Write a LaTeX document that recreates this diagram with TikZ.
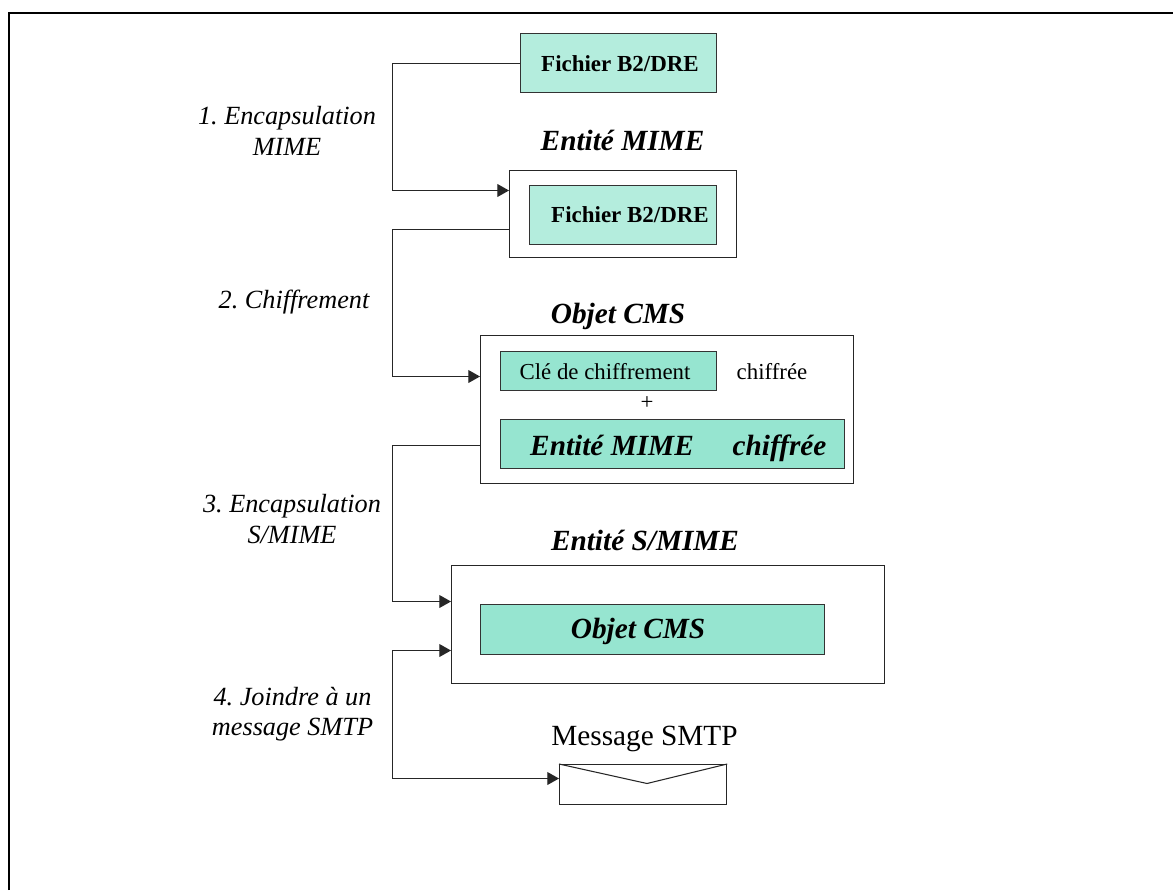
\documentclass[tikz,border=0pt]{standalone}
\usepackage{fontspec}
\setmainfont{Liberation Serif}
\usetikzlibrary{arrows.meta}
\definecolor{lighttile}{HTML}{B4EDDD}
\definecolor{darktile}{HTML}{96E5D0}
\tikzset{
    tilebox/.style={draw=black!80, line width=1pt, fill=lighttile, inner sep=0pt, anchor=north west},
    darkbox/.style={tilebox, fill=darktile},
    wrapbox/.style={draw=black!85, line width=1pt, fill=white, inner sep=0pt, anchor=north west},
    stepline/.style={draw=black!85, line width=0.9pt},
    arrowline/.style={stepline, -{Triangle[length=10pt,width=11pt]}},
    bothline/.style={stepline, {Triangle[length=10pt,width=11pt]}-{Triangle[length=10pt,width=11pt]}},
    steplabel/.style={font=\fontsize{22.4}{25.8}\selectfont\itshape\frenchspacing, align=center},
    boldlabel/.style={font=\fontsize{19.6}{23}\selectfont\bfseries, anchor=base},
    titlelabel/.style={font=\fontsize{25}{29}\selectfont\bfseries\itshape, anchor=base},
    plainlabel/.style={font=\fontsize{19.5}{23}\selectfont, anchor=base},
}
\begin{document}
\begin{tikzpicture}[x=0.03cm,y=-0.03cm]
    \useasboundingbox (0,0) rectangle (1173,890);
    % frame, open on the right and at the bottom
    \draw[black, line width=1.7pt] (9,890) -- (9,13) -- (1173,13);

    \node[tilebox, minimum width=196*0.03cm, minimum height=59*0.03cm] (filea) at (520,33) {};
    \node[boldlabel] (fileatext) at (620,71) {Fichier B2/DRE};

    \node[titlelabel] (mimetitle) at (622.5,150.5) {Entité MIME};
    \node[wrapbox, minimum width=227*0.03cm, minimum height=87*0.03cm] (mime) at (509,170) {};
    \node[tilebox, minimum width=187*0.03cm, minimum height=59*0.03cm] (fileb) at (529,185) {};
    \node[boldlabel] (filebtext) at (630,222) {Fichier B2/DRE};

    \node[titlelabel] (cmstitle) at (618,323) {Objet CMS};
    \node[wrapbox, minimum width=373*0.03cm, minimum height=148*0.03cm] (cms) at (480,335) {};
    \node[darkbox, minimum width=216*0.03cm, minimum height=39*0.03cm] (key) at (500,351) {};
    \node[plainlabel] (keytext) at (605,379) {Clé de chiffrement};
    \node[plainlabel] (keyword) at (772,379) {chiffrée};
    \node[plainlabel] (plus) at (647,409) {+};
    \node[darkbox, minimum width=344*0.03cm, minimum height=49*0.03cm] (mimeenc) at (500,419) {};
    \node[titlelabel] (mimeenctext) at (612,455.5) {Entité MIME};
    \node[titlelabel] (mimeencword) at (779.5,455.5) {chiffrée};

    \node[titlelabel] (smimetitle) at (645,550) {Entité S/MIME};
    \node[wrapbox, minimum width=433*0.03cm, minimum height=118*0.03cm] (smime) at (451,565) {};
    \node[darkbox, minimum width=344*0.03cm, minimum height=50*0.03cm] (inner) at (480,604) {};
    \node[titlelabel] (innertext) at (638,638) {Objet CMS};

    \node[plainlabel, font=\fontsize{25}{29}\selectfont] (smtptitle) at (644.5,745) {Message SMTP};
    \node[wrapbox, minimum width=167*0.03cm, minimum height=40*0.03cm] (mail) at (559,764) {};
    \coordinate (flap) at (647,783.5);
    \draw[stepline] (mail.north west) -- (flap) -- (mail.north east);

    % step labels
    \node[steplabel] (stepa) at (287,131) {1. Encapsulation\\MIME};
    \node[steplabel] (stepb) at (294,302) {2. Chiffrement};
    \node[steplabel] (stepc) at (292,519) {3. Encapsulation\\S/MIME};
    \node[steplabel] (stepd) at (292.5,714.5) {4. Joindre à un\\message SMTP};

    % connectors
    \coordinate (ina) at (509,190.5);
    \coordinate (bena) at (392.5,190.5);
    \draw[arrowline] (filea.west) -| (bena) -- (ina);
    \coordinate (outb) at (509,229.5);
    \coordinate (inb) at (480,376.5);
    \coordinate (benb) at (392.5,376.5);
    \draw[arrowline] (outb) -| (benb) -- (inb);
    \coordinate (outc) at (480,445.5);
    \coordinate (inc) at (451,601.5);
    \coordinate (benc) at (392.5,601.5);
    \draw[arrowline] (outc) -| (benc) -- (inc);
    \coordinate (ind) at (451,650.5);
    \coordinate (bend) at (392.5,650.5);
    \coordinate (ine) at (559,778.5);
    \coordinate (bene) at (392.5,778.5);
    \draw[bothline] (ind) -- (bend) -- (bene) -- (ine);
\end{tikzpicture}
\end{document}
